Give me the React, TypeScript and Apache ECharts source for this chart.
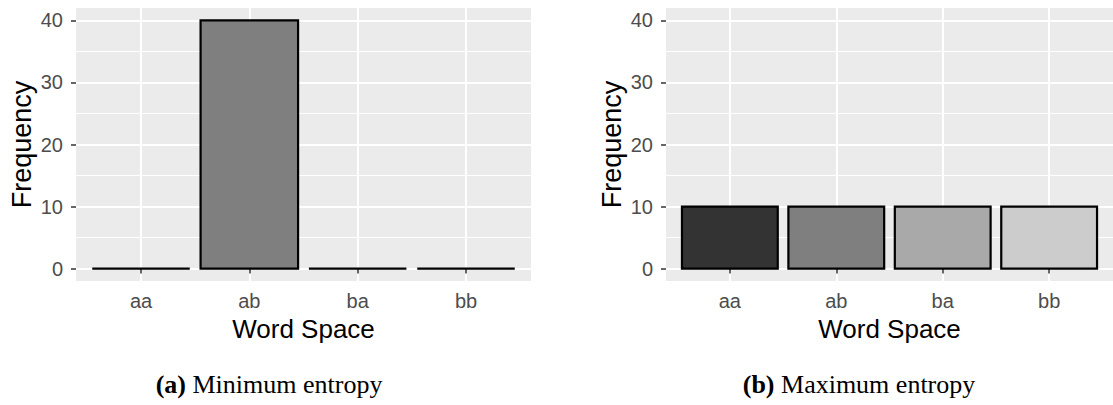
import React, { useEffect, useRef } from "react";
import * as echarts from "echarts";

const categories = ["aa", "ab", "ba", "bb"];
const minEntropy = [0, 40, 0, 0];
const maxEntropy = [10, 10, 10, 10];
const yTicks = [0, 10, 20, 30, 40];
const yMinorTicks = [5, 15, 25, 35];
const fills = ["#333333", "#7F7F7F", "#A9A9A9", "#CCCCCC"];
const xTitle = "Word Space";
const yTitle = "Frequency";
const captionA = "Minimum entropy";
const captionB = "Maximum entropy";

const xPos = categories.map((_, i) => i + 1);

export default function App() {
  const ref = useRef<HTMLDivElement>(null);
  useEffect(() => {
    if (!ref.current) return;
    const chart = echarts.init(ref.current, null, { renderer: "svg" });
    const tickFont = { fontFamily: "Liberation Sans", fontSize: 20, color: "#4D4D4D" };
    const titleFont = { fontFamily: "Liberation Sans", fontSize: 26, color: "#000000" };
    const grids = [
      { left: 76, top: 8, width: 455, height: 273, show: true, backgroundColor: "#EBEBEB", borderWidth: 0 },
      { left: 666, top: 8, width: 454, height: 273, show: true, backgroundColor: "#EBEBEB", borderWidth: 0 },
    ];
    const xAxes: any[] = [];
    const yAxes: any[] = [];
    [0, 1].forEach((g) => {
      xAxes.push({
        type: "value",
        gridIndex: g,
        min: 0.4,
        max: 4.6,
        name: xTitle,
        nameLocation: "middle",
        nameGap: 35,
        nameTextStyle: titleFont,
        axisLine: { show: false },
        axisTick: { show: true, length: 5, customValues: xPos, lineStyle: { color: "#333333", width: 1.5 } },
        axisLabel: {
          customValues: xPos,
          margin: 10,
          ...tickFont,
          formatter: (v: number) => categories[Math.round(v) - 1] ?? "",
        },
        splitLine: { show: true, lineStyle: { color: "#FFFFFF", width: 2.1 } },
      });
      yAxes.push({
        type: "value",
        gridIndex: g,
        min: -2,
        max: 42,
        name: yTitle,
        nameLocation: "middle",
        nameGap: 41,
        nameTextStyle: { ...titleFont, fontSize: 27 },
        axisLine: { show: false },
        axisTick: { show: true, length: 5, customValues: yTicks, lineStyle: { color: "#333333", width: 1.5 } },
        axisLabel: { customValues: yTicks, margin: 13, ...tickFont },
        splitLine: { show: true, lineStyle: { color: "#FFFFFF", width: 2.1 } },
      });
      yAxes.push({
        type: "value",
        gridIndex: g,
        min: -2,
        max: 42,
        position: "left",
        axisLine: { show: false },
        axisTick: { show: false, customValues: yMinorTicks },
        axisLabel: { show: false, customValues: yMinorTicks },
        splitLine: { show: true, lineStyle: { color: "#FFFFFF", width: 1.05 } },
      });
    });

    const renderBar = (params: any, api: any) => {
      const x = api.value(0);
      const y = api.value(1);
      const idx = Math.round(x) - 1;
      const p0 = api.coord([x - 0.45, 0]);
      const p1 = api.coord([x + 0.45, y]);
      if (y === 0) {
        return {
          type: "line",
          shape: { x1: p0[0], y1: p0[1], x2: p1[0], y2: p0[1] },
          style: { stroke: "#000000", lineWidth: 2.2 },
        };
      }
      return {
        type: "rect",
        shape: { x: p0[0], y: p1[1], width: p1[0] - p0[0], height: p0[1] - p1[1] },
        style: { fill: fills[idx], stroke: "#000000", lineWidth: 2.2 },
      };
    };

    chart.setOption({
      animation: false,
      grid: grids,
      xAxis: xAxes,
      yAxis: yAxes,
      series: [
        {
          type: "custom",
          xAxisIndex: 0,
          yAxisIndex: 0,
          renderItem: renderBar,
          data: xPos.map((x, i) => [x, minEntropy[i]]),
          encode: { x: 0, y: 1 },
        },
        {
          type: "custom",
          xAxisIndex: 1,
          yAxisIndex: 2,
          renderItem: renderBar,
          data: xPos.map((x, i) => [x, maxEntropy[i]]),
          encode: { x: 0, y: 1 },
        },
      ],
      graphic: [
        {
          type: "text",
          x: 269,
          y: 384,
          style: {
            text: "{b|(a)} " + captionA,
            align: "center",
            verticalAlign: "middle",
            fontFamily: "Liberation Serif",
            fontSize: 26,
            fill: "#000000",
            rich: { b: { fontWeight: "bold", fontFamily: "Liberation Serif", fontSize: 26 } },
          },
        },
        {
          type: "text",
          x: 859,
          y: 384,
          style: {
            text: "{b|(b)} " + captionB,
            align: "center",
            verticalAlign: "middle",
            fontFamily: "Liberation Serif",
            fontSize: 26,
            fill: "#000000",
            rich: { b: { fontWeight: "bold", fontFamily: "Liberation Serif", fontSize: 26 } },
          },
        },
      ],
    });
    return () => chart.dispose();
  }, []);
  return (
    <div
      ref={ref}
      style={{ position: "absolute", left: 0, top: 0, width: 1113, height: 405, background: "#FFFFFF" }}
    />
  );
}
